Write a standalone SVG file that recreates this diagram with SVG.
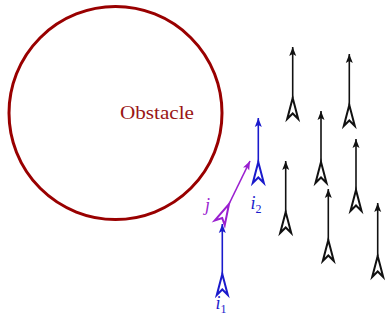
<svg xmlns="http://www.w3.org/2000/svg" xmlns:xlink="http://www.w3.org/1999/xlink" width="385" height="323" viewBox="0 0 385 323">
<style>
  .lbl { font-family: "Liberation Serif", "DejaVu Serif", serif; font-style: italic; font-size: 18px; }
  .sub { font-family: "Liberation Serif", "DejaVu Serif", serif; font-size: 12px; font-style: normal; }
  .boat { fill: #ffffff; stroke-width: 2; stroke-linejoin: miter; }
  .vel { stroke-width: 1.6; fill: none; }
  .k { stroke: #111111; }
  .b { stroke: #1a1acc; }
  .p { stroke: #9a1fd0; }
</style>
<defs>
  <path id="boatshape" d="M0,0 L5.5,21 L0,15.5 L-5.5,21 Z"/>
  <marker id="ak" markerUnits="userSpaceOnUse" markerWidth="10" markerHeight="8" refX="9" refY="4" orient="auto"><path d="M0,0.5 L9,4 L0,7.5 L2,4 Z" fill="#111111"/></marker>
  <marker id="ab" markerUnits="userSpaceOnUse" markerWidth="10" markerHeight="8" refX="9" refY="4" orient="auto"><path d="M0,0.5 L9,4 L0,7.5 L2,4 Z" fill="#1a1acc"/></marker>
  <marker id="ap" markerUnits="userSpaceOnUse" markerWidth="10" markerHeight="8" refX="9" refY="4" orient="auto"><path d="M0,0.5 L9,4 L0,7.5 L2,4 Z" fill="#9a1fd0"/></marker>
</defs>

<g id="obstacle">
  <circle cx="115.5" cy="113" r="106.5" fill="none" stroke="#990000" stroke-width="3"/>
  <text x="120" y="119" font-family="Liberation Serif, DejaVu Serif, serif" font-size="18" fill="#9a1616" textLength="74" lengthAdjust="spacingAndGlyphs">Obstacle</text>
</g>

<g id="connectors">
  <line class="vel k" x1="292.7" y1="98" x2="292.7" y2="47" marker-end="url(#ak)"/>
  <line class="vel k" x1="349.3" y1="105" x2="349.3" y2="54" marker-end="url(#ak)"/>
  <line class="vel k" x1="321" y1="162" x2="321" y2="111" marker-end="url(#ak)"/>
  <line class="vel k" x1="285.7" y1="212" x2="285.7" y2="161" marker-end="url(#ak)"/>
  <line class="vel k" x1="356" y1="190" x2="356" y2="139" marker-end="url(#ak)"/>
  <line class="vel k" x1="328.3" y1="240" x2="328.3" y2="189" marker-end="url(#ak)"/>
  <line class="vel k" x1="377.7" y1="256" x2="377.7" y2="203" marker-end="url(#ak)"/>
  <line class="vel b" x1="222.3" y1="274" x2="222.3" y2="224" marker-end="url(#ab)"/>
  <line class="vel b" x1="258.3" y1="162" x2="258.3" y2="118" marker-end="url(#ab)"/>
  <line class="vel p" x1="229" y1="204" x2="250" y2="161" marker-end="url(#ap)"/>
</g>

<g id="agent-k1"><use xlink:href="#boatshape" class="boat k" transform="translate(292.7,98)"/></g>
<g id="agent-k2"><use xlink:href="#boatshape" class="boat k" transform="translate(349.3,105)"/></g>
<g id="agent-k3"><use xlink:href="#boatshape" class="boat k" transform="translate(321,162)"/></g>
<g id="agent-k4"><use xlink:href="#boatshape" class="boat k" transform="translate(285.7,212)"/></g>
<g id="agent-k5"><use xlink:href="#boatshape" class="boat k" transform="translate(356,190)"/></g>
<g id="agent-k6"><use xlink:href="#boatshape" class="boat k" transform="translate(328.3,240)"/></g>
<g id="agent-k7"><use xlink:href="#boatshape" class="boat k" transform="translate(377.7,256)"/></g>

<g id="agent-i1">
  <use xlink:href="#boatshape" class="boat b" transform="translate(222.3,274)"/>
  <text class="lbl" x="215.5" y="309" fill="#1a1acc">i<tspan class="sub" dy="4">1</tspan></text>
</g>
<g id="agent-i2">
  <use xlink:href="#boatshape" class="boat b" transform="translate(258.3,162)"/>
  <text class="lbl" x="250.5" y="209" fill="#1a1acc">i<tspan class="sub" dy="4">2</tspan></text>
</g>
<g id="agent-j">
  <use xlink:href="#boatshape" class="boat p" transform="translate(229,204) rotate(26)"/>
  <text class="lbl" x="205" y="211" fill="#9a1fd0">j</text>
</g>
</svg>
